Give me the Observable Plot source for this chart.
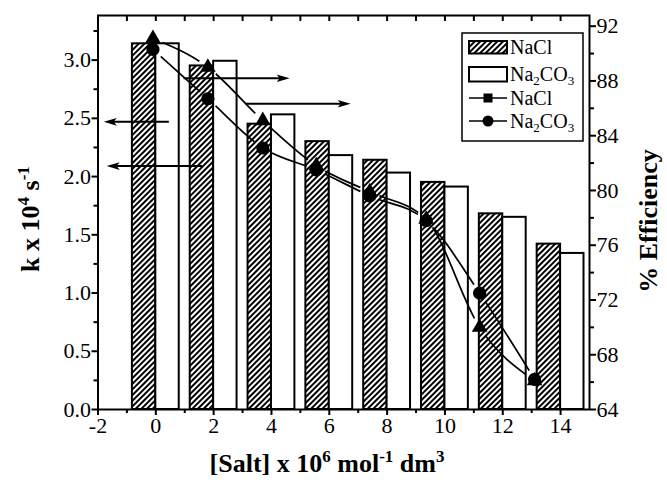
<!DOCTYPE html>
<html>
<head>
<meta charset="utf-8">
<script src="https://cdn.jsdelivr.net/npm/d3@7"></script>
<script src="https://cdn.jsdelivr.net/npm/@observablehq/plot@0.6"></script>
<style>
  html, body { margin: 0; padding: 0; background: #fff; }
  #chart svg { display: block; }
</style>
</head>
<body>
<div id="chart"></div>
<script>
// ---- data ----
const salt = [0, 2, 4, 6, 8, 10, 12, 14];
const kNaCl = [3.14, 2.95, 2.45, 2.30, 2.14, 1.95, 1.68, 1.42];
const kNa2CO3 = [3.14, 2.99, 2.53, 2.18, 2.03, 1.91, 1.65, 1.34];
const effX = [-0.1, 1.8, 3.7, 5.55, 7.4, 9.35, 11.2, 13.1];
const effNaCl = [91.1, 89.0, 85.1, 81.8, 79.9, 77.9, 70.0, 66.1];
const effNa2CO3 = [90.3, 86.7, 83.1, 81.5, 79.6, 77.8, 72.5, 66.2];
const xMajor = [-2, 0, 2, 4, 6, 8, 10, 12, 14];
const xMinor = [-1, 1, 3, 5, 7, 9, 11, 13];
const kMajor = [0, 0.5, 1.0, 1.5, 2.0, 2.5, 3.0];
const kMinor = [0.25, 0.75, 1.25, 1.75, 2.25, 2.75, 3.25];
const eMajor = [64, 68, 72, 76, 80, 84, 88, 92];
const eMinor = [66, 70, 74, 78, 82, 86, 90];
// arrows: pointing to left axis (k units) and to right axis (efficiency units)
const leftArrows = [{x1: 0.45, x2: -1.8, k: 2.47}, {x1: 1.6, x2: -1.7, k: 2.09}];
const rightArrows = [{x1: 0.96, x2: 4.63, e: 88.2}, {x1: 3.1, x2: 6.74, e: 86.33}];

const kMax = 3.383, eMin = 64, eMax = 92.78;
const toK = e => (e - eMin) / (eMax - eMin) * kMax;
const toE = k => eMin + k / kMax * (eMax - eMin);
const barW = 0.81;

const bars = salt.map((s, i) => ({s, a: kNaCl[i], b: kNa2CO3[i]}));
const lineNaCl = effX.map((x, i) => ({x, y: toK(effNaCl[i])}));
const lineNa2CO3 = effX.map((x, i) => ({x, y: toK(effNa2CO3[i])}));

const headRight = {draw(c) { c.moveTo(0, 0); c.lineTo(-13, -3.8); c.lineTo(-10, 0); c.lineTo(-13, 3.8); c.closePath(); }};
const headLeft = {draw(c) { c.moveTo(0, 0); c.lineTo(13, -3.8); c.lineTo(10, 0); c.lineTo(13, 3.8); c.closePath(); }};

const FONT = "'Liberation Serif', 'Times New Roman', serif";
const ML = 97.5, MR = 78, MT = 15, MB = 76, W = 667, H = 485;

const chart = Plot.plot({
  width: W, height: H,
  marginLeft: ML, marginRight: MR, marginTop: MT, marginBottom: MB,
  x: {domain: [-2, 15]},
  y: {domain: [0, kMax]},
  style: {fontFamily: FONT, fontSize: "22px", background: "white", color: "black", overflow: "visible"},
  marks: [
    Plot.rect(bars, {x1: d => d.s - barW, x2: d => d.s, y1: d => 0, y2: d => d.a, fill: "url(#hatch)", stroke: "black", strokeWidth: 2}),
    Plot.rect(bars, {x1: d => d.s, x2: d => d.s + barW, y1: d => 0, y2: d => d.b, fill: "white", stroke: "black", strokeWidth: 2}),
    Plot.line(lineNaCl, {x: "x", y: "y", curve: "monotone-x", stroke: "black", strokeWidth: 1.7}),
    Plot.line(lineNa2CO3, {x: "x", y: "y", curve: "monotone-x", stroke: "black", strokeWidth: 1.7}),
    Plot.dot(lineNaCl, {x: "x", y: "y", symbol: "triangle", r: 5.8, fill: "black", stroke: "none"}),
    Plot.dot(lineNa2CO3, {x: "x", y: "y", symbol: "circle", r: 6.6, fill: "black", stroke: "none"}),
    // arrows
    Plot.link(leftArrows, {x1: "x1", x2: d => d.x2 + 0.3, y1: "k", y2: "k", stroke: "black", strokeWidth: 2}),
    Plot.dot(leftArrows, {x: "x2", y: "k", symbol: headLeft, fill: "black", stroke: "none"}),
    Plot.link(rightArrows, {x1: "x1", x2: d => d.x2 - 0.3, y1: d => toK(d.e), y2: d => toK(d.e), stroke: "black", strokeWidth: 2}),
    Plot.dot(rightArrows, {x: "x2", y: d => toK(d.e), symbol: headRight, fill: "black", stroke: "none"}),
    // axes
    Plot.axisX(xMajor, {anchor: "bottom", tickSize: 6, tickPadding: 2, tickFormat: d => d, label: null, strokeWidth: 2, fontFamily: FONT}),
    Plot.axisX(xMinor, {anchor: "bottom", tickSize: 4, tickFormat: () => "", label: null, strokeWidth: 2}),
    Plot.axisX(xMajor.concat(xMinor), {anchor: "top", tickSize: -5, tickFormat: () => "", label: null, strokeWidth: 2}),
    Plot.axisY(kMajor, {anchor: "left", tickSize: 6, tickPadding: 1, tickFormat: d3.format(".1f"), label: null, strokeWidth: 2, fontFamily: FONT}),
    Plot.axisY(kMinor, {anchor: "left", tickSize: 4, tickFormat: () => "", label: null, strokeWidth: 2}),
    Plot.axisY(eMajor.map(toK), {anchor: "right", tickSize: 6, tickPadding: 1, tickFormat: d => Math.round(toE(d)), label: null, strokeWidth: 2, fontFamily: FONT}),
    Plot.axisY(eMinor.map(toK), {anchor: "right", tickSize: 4, tickFormat: () => "", label: null, strokeWidth: 2}),
    Plot.frame({stroke: "black", strokeWidth: 2})
  ]
});

document.getElementById("chart").appendChild(chart);

const svg = d3.select(chart);
const defs = svg.insert("defs", ":first-child");
const pat = defs.append("pattern").attr("id", "hatch").attr("patternUnits", "userSpaceOnUse")
  .attr("width", 4).attr("height", 4).attr("patternTransform", "rotate(45)");
pat.append("rect").attr("width", 4).attr("height", 4).attr("fill", "white");
pat.append("line").attr("x1", 1).attr("y1", -1).attr("x2", 1).attr("y2", 5).attr("stroke", "black").attr("stroke-width", 2);

// gaps in the lines around their markers (computed through the plot's own scales)
let sx, sy;
try { sx = chart.scale("x"); sy = chart.scale("y"); } catch (e) {}
const px = v => { const r = (sx && sx.apply) ? sx.apply(v) : NaN; return isFinite(r) ? r : ML + (v + 2) / 17 * (W - ML - MR); };
const py = v => { const r = (sy && sy.apply) ? sy.apply(v) : NaN; return isFinite(r) ? r : (H - MB) - v / kMax * (H - MT - MB); };
function gapMask(id, pts) {
  const m = defs.append("mask").attr("id", id).attr("maskUnits", "userSpaceOnUse")
    .attr("x", 0).attr("y", 0).attr("width", W).attr("height", H);
  m.append("rect").attr("x", 0).attr("y", 0).attr("width", W).attr("height", H).attr("fill", "white");
  pts.forEach(p => m.append("circle").attr("cx", px(p.x)).attr("cy", py(p.y)).attr("r", 10.5).attr("fill", "black"));
}
gapMask("gapNaCl", lineNaCl);
gapMask("gapNa2CO3", lineNa2CO3);
const lineGroups = svg.selectAll('g[aria-label="line"]').nodes();
if (lineGroups[0]) lineGroups[0].setAttribute("mask", "url(#gapNaCl)");
if (lineGroups[1]) lineGroups[1].setAttribute("mask", "url(#gapNa2CO3)");

// axis titles
const TS = 26, SS = 17, SD = 10;
const xt = svg.append("text").attr("x", 327).attr("y", 472).attr("text-anchor", "middle")
  .attr("font-family", FONT).attr("font-weight", "bold").attr("font-size", TS);
xt.append("tspan").text("[Salt] x 10");
xt.append("tspan").attr("dy", -SD).attr("font-size", SS).text("6");
xt.append("tspan").attr("dy", SD).text(" mol");
xt.append("tspan").attr("dy", -SD).attr("font-size", SS).text("-1");
xt.append("tspan").attr("dy", SD).text(" dm");
xt.append("tspan").attr("dy", -SD).attr("font-size", SS).text("3");

const yt = svg.append("text").attr("transform", "translate(39,219) rotate(-90)").attr("text-anchor", "middle")
  .attr("font-family", FONT).attr("font-weight", "bold").attr("font-size", TS);
yt.append("tspan").text("k x 10");
yt.append("tspan").attr("dy", -SD).attr("font-size", SS).text("4");
yt.append("tspan").attr("dy", SD).text(" s");
yt.append("tspan").attr("dy", -SD).attr("font-size", SS).text("-1");

svg.append("text").attr("transform", "translate(657,221) rotate(-90)").attr("text-anchor", "middle")
  .attr("font-family", FONT).attr("font-weight", "bold").attr("font-size", TS).text("% Efficiency");

// legend
const lg = svg.append("g").attr("font-family", FONT).attr("font-size", 20).attr("text-anchor", "start");
lg.append("rect").attr("x", 462).attr("y", 33).attr("width", 121).attr("height", 108)
  .attr("fill", "white").attr("stroke", "black").attr("stroke-width", 1.5);
lg.append("rect").attr("x", 469).attr("y", 41).attr("width", 38).attr("height", 12.5)
  .attr("fill", "url(#hatch)").attr("stroke", "black").attr("stroke-width", 2);
lg.append("rect").attr("x", 469).attr("y", 67).attr("width", 38).attr("height", 14.5)
  .attr("fill", "white").attr("stroke", "black").attr("stroke-width", 2);
lg.append("line").attr("x1", 469).attr("x2", 507).attr("y1", 98).attr("y2", 98).attr("stroke", "black").attr("stroke-width", 1.7);
lg.append("rect").attr("x", 483.5).attr("y", 93.5).attr("width", 9).attr("height", 9).attr("fill", "black");
lg.append("line").attr("x1", 469).attr("x2", 507).attr("y1", 121).attr("y2", 121).attr("stroke", "black").attr("stroke-width", 1.7);
lg.append("circle").attr("cx", 488).attr("cy", 121).attr("r", 5.5).attr("fill", "black");
function legText(y, sub) {
  const t = lg.append("text").attr("x", 510).attr("y", y).attr("text-anchor", "start");
  if (!sub) { t.text("NaCl"); return; }
  t.append("tspan").text("Na");
  t.append("tspan").attr("dy", 4).attr("font-size", 13).text("2");
  t.append("tspan").attr("dy", -4).text("CO");
  t.append("tspan").attr("dy", 4).attr("font-size", 13).text("3");
}
legText(54, false);
legText(81, true);
legText(105, false);
legText(128, true);
</script>
</body>
</html>
